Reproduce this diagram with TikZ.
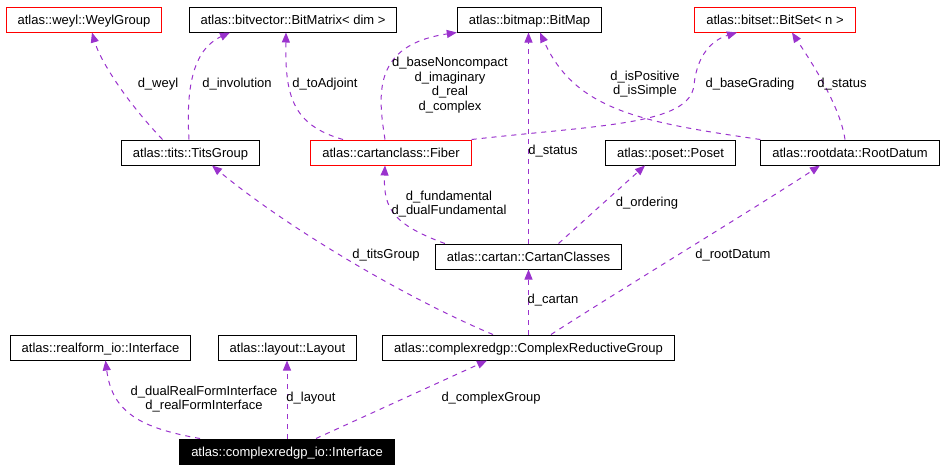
\documentclass[tikz,border=0pt]{standalone}
\usepackage{fontspec}
\setmainfont{Liberation Sans}
\usetikzlibrary{arrows.meta}
\definecolor{usage}{RGB}{154, 50, 205}
\definecolor{missing}{RGB}{255, 0, 0}

\begin{document}
\begin{tikzpicture}[
        x=1pt, y=-1pt,
        cls/.style={draw=black, fill=white, line width=1pt, minimum height=25pt, text height=12pt, text depth=2pt, inner xsep=11.5pt, inner ysep=0pt, font=\fontsize{13}{14.5}\selectfont},
        partial/.style={cls, draw=missing},
        focus/.style={cls, fill=black, text=white},
        lbl/.style={align=center, inner sep=0pt, font=\fontsize{13}{14.5}\selectfont},
        uses/.style={draw=usage, line width=1pt, dash pattern=on 5pt off 5pt, -{Triangle[length=10pt, width=8pt]}}
    ]
        \useasboundingbox (0,0) rectangle (945,469);

        % top row
        \node[partial] (weyl) at (84,19.5) {atlas::weyl::WeylGroup};
        \node[cls] (bitmatrix) at (293,19.5) {atlas::bitvector::BitMatrix< dim >};
        \node[cls] (bitmap) at (529.5,19.5) {atlas::bitmap::BitMap};
        \node[partial] (bitset) at (775,19.5) {atlas::bitset::BitSet< n >};

        % second row
        \node[cls] (tits) at (190.5,152.5) {atlas::tits::TitsGroup};
        \node[partial] (fiber) at (391,152.5) {atlas::cartanclass::Fiber};
        \node[cls] (poset) at (670.5,152.5) {atlas::poset::Poset};
        \node[cls] (rootdatum) at (850,152.5) {atlas::rootdata::RootDatum};

        \node[cls] (cartan) at (528.5,256.5) {atlas::cartan::CartanClasses};

        % bottom rows
        \node[cls] (realform) at (100.5,347.5) {atlas::realform\_io::Interface};
        \node[cls] (layout) at (287.5,347.5) {atlas::layout::Layout};
        \node[cls] (crg) at (528.5,347.5) {atlas::complexredgp::ComplexReductiveGroup};
        \node[focus] (iface) at (287,451.5) {atlas::complexredgp\_io::Interface};

        % usage edges
        \draw[uses] ([xshift=-28pt]tits.north) .. controls (125,100) and (100,60) .. ([xshift=8pt]weyl.south);
        \draw[uses] ([xshift=-1.5pt]tits.north) .. controls (186,90) and (192,50) .. ([xshift=-63pt]bitmatrix.south);
        \draw[uses] ([xshift=-48pt]fiber.north) .. controls (292,125) and (285,95) .. ([xshift=-7pt]bitmatrix.south);
        \draw[uses] ([xshift=-6pt]fiber.north) .. controls (378,95) and (372,45) .. (bitmap.south west);
        \draw[uses] (fiber.north east) .. controls (600,125) and (690,125) .. (694,85) .. controls (697,55) and (712,40) .. ([xshift=-38pt]bitset.south);
        \draw[uses] (rootdatum.north west) .. controls (640,122) and (575,110) .. ([xshift=10.5pt]bitmap.south);
        \draw[uses] ([xshift=-5pt]rootdatum.north) .. controls (840,105) and (810,60) .. ([xshift=17pt]bitset.south);
        \draw[uses] (cartan.north) -- (cartan.north |- bitmap.south);
        \draw[uses] ([xshift=10pt]cartan.north west) .. controls (395,225) and (383,210) .. ([xshift=-6pt]fiber.south);
        \draw[uses] ([xshift=30pt]cartan.north) -- ([xshift=-25.5pt]poset.south);
        \draw[uses] ([xshift=-35.5pt]crg.north) .. controls (410,300) and (290,230) .. ([xshift=21.5pt]tits.south);
        \draw[uses] (crg.north) -- (cartan.south);
        \draw[uses] ([xshift=22.5pt]crg.north) .. controls (620,290) and (760,205) .. ([xshift=-30pt]rootdatum.south);
        \draw[uses] ([xshift=-87pt]iface.north) .. controls (140,428) and (112,412) .. ([xshift=5pt]realform.south);
        \draw[uses] (iface.north) -- (iface.north |- layout.south);
        \draw[uses] ([xshift=29pt]iface.north) -- ([xshift=-41.5pt]crg.south);

        % edge labels
        \node[lbl] (lweyl) at (158,84) {d\_weyl};
        \node[lbl] (linvolution) at (237,84) {d\_involution};
        \node[lbl] (ltoadjoint) at (325,84) {d\_toAdjoint};
        \node[lbl] (lfiberbits) at (450,85) {d\_baseNoncompact\\d\_imaginary\\d\_real\\d\_complex};
        \node[lbl] (lpositive) at (645,84) {d\_isPositive\\d\_isSimple};
        \node[lbl] (lgrading) at (750,84) {d\_baseGrading};
        \node[lbl] (lrootstatus) at (842,84) {d\_status};
        \node[lbl] (lcartanstatus) at (553,151) {d\_status};
        \node[lbl] (lfundamental) at (449,204) {d\_fundamental\\d\_dualFundamental};
        \node[lbl] (lordering) at (647,203) {d\_ordering};
        \node[lbl] (ltits) at (386,255) {d\_titsGroup};
        \node[lbl] (lrootdatum) at (733,255) {d\_rootDatum};
        \node[lbl] (lcartan) at (553,300) {d\_cartan};
        \node[lbl] (lrealform) at (204,399) {d\_dualRealFormInterface\\d\_realFormInterface};
        \node[lbl] (llayout) at (311,398) {d\_layout};
        \node[lbl] (lcomplex) at (491,398) {d\_complexGroup};
    \end{tikzpicture}
\end{document}
